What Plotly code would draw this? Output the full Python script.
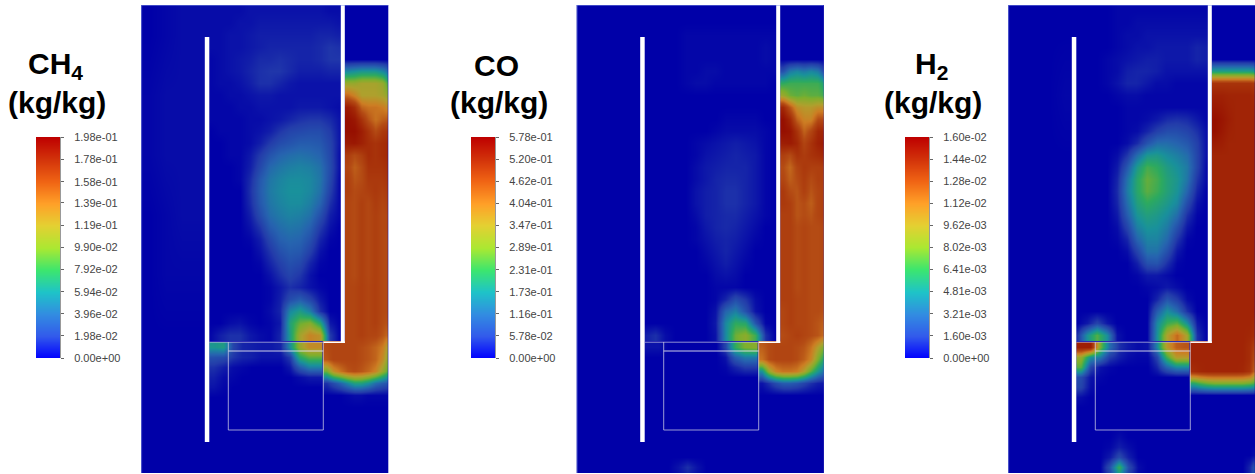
import plotly.graph_objects as go

W, H = 1255, 474

# Tick labels of the three colour bars
CH4_TICKS = ["0.00e+00","1.98e-02","3.96e-02","5.94e-02","7.92e-02","9.90e-02","1.19e-01","1.39e-01","1.58e-01","1.78e-01","1.98e-01"]
CO_TICKS = ["0.00e+00","5.78e-02","1.16e-01","1.73e-01","2.31e-01","2.89e-01","3.47e-01","4.04e-01","4.62e-01","5.20e-01","5.78e-01"]
H2_TICKS = ["0.00e+00","1.60e-03","3.21e-03","4.81e-03","6.41e-03","8.02e-03","9.62e-03","1.12e-02","1.28e-02","1.44e-02","1.60e-02"]

# Fields, in percent of the colour bar's full scale
CH4_OUTER = [
 [0,1,2,2],[1,2,2,2],[1,2,2,2],[0,1,2,2],[0,1,1,1],[0,0,0,0],[0,0,0,0],[0,0,0,0]]
CO_OUTER = [
 [0,0,0,0],[0,0,0,0],[0,0,0,0],[0,0,0,0],[0,0,0,0],[0,0,0,0],[0,0,0,0],[0,0,0,0]]
H2_OUTER = [
 [0,0,0,0],[0,0,0,1],[0,0,0,0],[0,0,0,0],[0,0,0,0],[0,0,0,0],[0,0,0,0],[0,0,0,0]]

CH4_CHAMBER = [
 [2,2,2,2,3,3,3,3,3,3,3,3,2,2],
 [2,2,2,3,3,4,4,4,4,4,4,4,4,3],
 [2,2,3,3,4,5,5,5,5,5,5,6,6,5],
 [2,2,3,3,4,5,6,6,6,6,6,7,9,8],
 [1,2,3,4,5,7,7,8,7,6,6,7,9,9],
 [1,2,3,4,6,8,9,9,7,5,5,5,6,6],
 [1,2,2,3,5,8,8,6,4,3,3,3,3,3],
 [1,1,2,2,3,4,4,3,3,3,3,3,3,3],
 [1,1,1,2,2,3,3,3,3,4,4,4,3,2],
 [1,1,1,1,2,2,3,4,6,8,9,9,7,3],
 [0,1,1,1,2,3,5,9,12,13,14,14,10,3],
 [0,0,1,1,2,5,10,14,16,18,18,17,12,3],
 [0,0,1,1,4,10,16,20,22,23,22,20,13,2],
 [0,0,0,1,5,13,21,24,26,27,26,23,14,2],
 [0,0,0,1,7,17,24,27,29,29,28,24,13,1],
 [0,0,0,0,8,18,25,28,30,30,28,23,11,1],
 [0,0,0,0,7,17,24,27,29,29,26,20,8,1],
 [0,0,0,0,5,14,22,25,27,26,23,15,5,1],
 [0,0,0,0,3,9,18,22,24,23,19,10,3,0],
 [0,0,0,0,1,5,13,19,21,20,15,6,1,0],
 [0,0,0,0,0,3,9,15,18,17,11,3,0,0],
 [0,0,0,0,0,1,6,11,15,13,6,1,0,0],
 [0,0,0,0,0,0,3,8,12,9,3,0,0,0],
 [0,0,0,0,0,0,1,4,8,6,3,1,0,0],
 [0,0,0,0,0,0,1,5,14,18,12,4,0,0],
 [0,0,0,0,0,0,2,6,28,34,26,8,0,0],
 [0,0,2,3,1,0,1,4,36,48,52,38,4,0],
 [1,5,8,8,4,2,1,6,34,58,68,64,10,0]]
CO_CHAMBER = [
 [0,0,0,0,0,0,0,0,0,0,0,0,0,0],
 [0,0,0,0,0,0,0,0,0,0,0,0,0,0],
 [0,0,0,0,1,1,1,1,1,1,1,1,1,1],
 [0,0,0,0,1,1,1,1,1,1,1,1,2,1],
 [0,0,0,0,1,1,1,1,1,1,1,1,2,1],
 [0,0,0,0,1,1,2,2,1,1,1,1,1,1],
 [0,0,0,0,1,2,2,1,1,1,1,1,1,0],
 [0,0,0,0,0,0,0,0,0,0,0,0,0,0],
 [0,0,0,0,0,0,0,0,0,0,0,0,0,0],
 [0,0,0,0,0,0,0,0,1,1,1,1,0,0],
 [0,0,0,0,0,0,0,1,2,2,2,2,1,0],
 [0,0,0,0,0,1,2,3,4,5,4,3,1,0],
 [0,0,0,0,0,1,3,4,5,6,5,4,1,0],
 [0,0,0,0,0,2,4,5,6,6,6,4,1,0],
 [0,0,0,0,0,2,4,6,7,7,6,4,1,0],
 [0,0,0,0,0,3,5,6,8,8,6,4,1,0],
 [0,0,0,0,0,3,5,6,8,8,6,4,1,0],
 [0,0,0,0,0,2,5,6,7,7,5,3,1,0],
 [0,0,0,0,0,1,4,6,7,6,4,2,0,0],
 [0,0,0,0,0,1,3,5,6,5,3,1,0,0],
 [0,0,0,0,0,0,2,4,6,4,2,0,0,0],
 [0,0,0,0,0,0,1,3,5,3,1,0,0,0],
 [0,0,0,0,0,0,0,2,3,2,0,0,0,0],
 [0,0,0,0,0,0,0,1,1,1,0,0,0,0],
 [0,0,0,0,0,0,0,1,6,14,9,2,0,0],
 [0,0,0,0,0,0,0,3,20,26,15,3,0,0],
 [0,0,0,0,0,0,0,4,28,40,38,16,1,0],
 [5,8,2,0,0,0,0,3,28,48,53,42,8,0]]
H2_CHAMBER = [
 [0,0,0,0,1,1,1,1,1,1,1,1,1,1],
 [0,0,0,0,1,1,2,2,2,2,2,2,2,2],
 [0,0,0,0,1,2,2,3,3,3,3,3,3,3],
 [0,0,0,0,1,2,3,3,4,4,4,4,6,5],
 [0,0,0,1,2,3,4,5,5,4,4,4,6,5],
 [0,0,0,1,2,5,6,6,5,3,3,3,3,3],
 [0,0,0,1,3,6,6,4,2,2,1,1,1,1],
 [0,0,0,0,1,2,2,1,1,1,1,1,1,1],
 [0,0,0,0,0,1,1,1,1,1,1,1,1,1],
 [0,0,0,0,0,1,1,2,4,7,8,7,4,1],
 [0,0,0,0,0,1,2,6,11,14,14,12,8,2],
 [0,0,0,0,0,2,7,16,22,22,20,17,11,2],
 [0,0,0,0,2,9,22,32,33,29,26,22,12,2],
 [0,0,0,0,4,17,33,43,40,34,30,25,12,1],
 [0,0,0,0,6,23,38,47,43,36,32,24,9,1],
 [0,0,0,0,7,25,38,46,42,36,31,20,6,0],
 [0,0,0,0,6,22,35,40,37,33,28,14,3,0],
 [0,0,0,0,4,18,31,35,33,29,22,8,1,0],
 [0,0,0,0,2,12,26,31,30,25,15,4,0,0],
 [0,0,0,0,1,6,20,27,27,21,9,1,0,0],
 [0,0,0,0,0,2,12,23,23,15,4,0,0,0],
 [0,0,0,0,0,0,5,15,16,8,1,0,0,0],
 [0,0,0,0,0,0,1,4,4,2,0,0,0,0],
 [0,0,0,0,0,0,0,1,2,4,2,0,0,0],
 [0,0,0,0,0,0,0,0,6,16,10,2,0,0],
 [0,0,0,0,0,0,0,0,18,30,22,8,0,0],
 [0,4,12,4,0,0,0,0,28,42,46,30,4,0],
 [8,30,45,30,3,0,0,0,30,60,74,58,8,0]]

CH4_LOWER = [
 [32,34,12,6,5,4,4,6,30,55,66,66],
 [15,14,9,6,5,3,3,3,10,38,46,46],
 [8,5,2,1,0,0,0,0,4,18,26,26],
 [5,2,1,0,0,0,0,0,0,2,4,4],
 [3,1,0,0,0,0,0,0,0,0,0,0],
 [0,0,0,0,0,0,0,0,0,0,0,0],
 [0,0,0,0,0,0,0,0,0,0,0,0],
 [0,0,0,0,0,0,0,0,0,0,0,0],
 [0,0,0,0,0,0,0,0,0,0,0,0],
 [0,0,0,0,0,0,0,0,0,0,0,0],
 [0,0,0,0,0,0,0,0,0,0,0,0],
 [0,0,0,0,0,0,0,0,0,0,0,0],
 [0,0,0,0,0,0,0,0,0,0,0,0],
 [0,0,0,0,0,0,0,0,0,0,0,0]]
CO_LOWER = [
 [3,3,0,0,0,0,0,0,12,40,50,52],
 [0,0,0,0,0,0,0,0,3,18,25,25],
 [0,0,0,0,0,0,0,0,1,6,10,10],
 [0,0,0,0,0,0,0,0,0,0,0,0],
 [0,0,0,0,0,0,0,0,0,0,0,0],
 [0,0,0,0,0,0,0,0,0,0,0,0],
 [0,0,0,0,0,0,0,0,0,0,0,0],
 [0,0,0,0,0,0,0,0,0,0,0,0],
 [0,0,0,0,0,0,0,0,0,0,0,0],
 [0,0,0,0,0,0,0,0,0,0,0,0],
 [0,0,0,0,0,0,0,0,0,0,0,0],
 [0,0,0,0,0,0,0,0,0,0,0,0],
 [0,0,0,3,8,3,0,0,0,0,0,0],
 [0,0,0,2,5,2,0,0,0,0,0,0]]
H2_LOWER = [
 [95,95,50,22,8,4,2,3,28,62,76,78],
 [55,30,25,10,5,2,1,1,12,42,62,62],
 [45,12,3,1,0,0,0,0,6,20,28,28],
 [14,3,1,0,0,0,0,0,0,0,0,0],
 [12,2,0,0,0,0,0,0,0,0,0,0],
 [2,0,0,0,0,0,0,0,0,0,0,0],
 [0,0,0,0,0,0,0,0,0,0,0,0],
 [0,0,0,0,0,0,0,0,0,0,0,0],
 [0,0,0,0,0,0,0,0,0,0,0,0],
 [0,0,0,0,2,0,0,0,0,0,0,0],
 [0,0,0,1,5,2,0,0,0,0,0,0],
 [0,0,0,4,14,5,0,0,0,0,0,0],
 [0,0,0,15,42,14,2,0,0,0,0,0],
 [0,0,0,10,30,10,1,0,0,0,0,0]]

CH4_CHANNEL = [
 [0,0,0,0,0,0,0,0,0,0],[0,0,0,0,0,0,0,0,0,0],[0,0,0,0,0,0,0,0,0,0],[0,0,0,0,0,0,0,0,0,0],[0,0,0,0,0,0,0,0,0,0],
 [28,28,28,28,30,32,32,32,28,20],
 [55,55,55,55,55,58,58,58,55,40],
 [74,74,74,74,68,60,60,60,58,52],
 [96,96,96,96,90,75,72,72,70,65],
 [100,100,100,100,97,88,78,72,76,78],
 [100,100,100,100,100,95,88,80,86,88],
 [96,96,96,96,97,94,90,88,90,92],
 [85,85,85,85,80,84,90,88,90,92],
 [82,82,82,82,76,80,88,88,88,90],
 [84,84,84,84,78,80,86,86,86,88],
 [84,84,84,84,80,82,84,86,84,86],
 [82,82,82,82,80,84,81,85,82,84],
 [82,82,82,82,80,84,81,84,81,82],
 [82,82,82,82,80,84,81,84,81,82],
 [82,82,82,82,80,84,81,84,81,80],
 [82,82,82,82,80,84,81,84,81,80],
 [82,82,82,82,80,84,81,84,81,80],
 [82,82,82,82,80,84,81,84,81,80],
 [82,82,82,82,82,84,82,84,81,80],
 [82,82,82,82,82,84,82,84,81,80],
 [82,82,82,82,82,84,82,84,81,80],
 [82,82,82,82,82,84,82,84,80,78],
 [82,82,82,82,82,84,82,82,78,72],
 [80,82,82,82,82,80,78,75,70,55],
 [78,82,82,82,82,80,78,75,66,48],
 [48,65,72,78,80,78,74,68,55,42],
 [8,14,20,28,35,35,30,22,18,15],
 [0,0,0,1,2,2,1,1,1,1],
 [0,0,0,0,0,0,0,0,0,0],[0,0,0,0,0,0,0,0,0,0],[0,0,0,0,0,0,0,0,0,0],[0,0,0,0,0,0,0,0,0,0],[0,0,0,0,0,0,0,0,0,0],[0,0,0,0,0,0,0,0,0,0]]
CO_CHANNEL = [
 [0,0,0,0,0,0,0,0,0,0],[0,0,0,0,0,0,0,0,0,0],[0,0,0,0,0,0,0,0,0,0],[0,0,0,0,0,0,0,0,0,0],[0,0,0,0,0,0,0,0,0,0],
 [15,15,15,15,25,28,25,28,25,12],
 [40,40,40,40,42,42,42,42,42,35],
 [56,56,56,56,48,46,48,46,46,42],
 [92,92,92,92,78,65,62,62,65,65],
 [100,100,100,100,92,75,68,68,80,80],
 [100,100,100,100,98,88,75,82,92,92],
 [95,95,95,95,96,92,82,88,94,96],
 [84,84,84,84,80,88,85,88,90,92],
 [80,80,80,80,74,82,86,84,84,85],
 [82,82,82,82,76,80,85,80,84,84],
 [86,86,86,86,80,78,84,78,82,84],
 [86,86,86,86,84,78,80,76,82,84],
 [84,84,84,84,84,78,80,78,82,84],
 [84,84,84,84,84,80,82,80,80,82],
 [84,84,84,84,84,80,82,80,80,82],
 [84,84,84,84,84,80,82,80,80,82],
 [84,84,84,84,84,80,82,80,80,82],
 [84,84,84,84,84,80,82,80,80,82],
 [84,84,84,84,84,80,82,80,80,82],
 [84,84,84,84,84,82,82,80,80,80],
 [82,82,82,82,84,82,82,80,80,78],
 [82,82,82,82,84,82,82,80,78,75],
 [80,80,80,80,82,84,82,80,78,72],
 [76,80,82,82,82,80,78,72,60,48],
 [72,80,82,82,82,80,76,68,50,35],
 [30,55,68,72,72,70,60,45,32,22],
 [3,8,14,18,18,16,12,8,5,4],
 [0,0,0,0,0,0,0,0,0,0],
 [0,0,0,0,0,0,0,0,0,0],[0,0,0,0,0,0,0,0,0,0],[0,0,0,0,0,0,0,0,0,0],[0,0,0,0,0,0,0,0,0,0],[0,0,0,0,0,0,0,0,0,0],[0,0,0,0,0,0,0,0,0,0]]
H2_CHANNEL = [
 [0,0,0,0,0,0,0,0,0,0],[0,0,0,0,0,0,0,0,0,0],[0,0,0,0,0,0,0,0,0,0],[0,0,0,0,0,0,0,0,0,0],[0,0,0,0,0,0,0,0,0,0],
 [35,35,35,35,35,35,35,35,35,32],
 [88,88,88,88,88,88,88,88,88,85],
 [94,94,94,94,94,93,93,93,93,90],
 [97,97,97,97,96,94,93,93,93,92],
 [100,100,100,100,98,95,93,93,93,93],
 [100,100,100,100,97,94,93,93,93,93],
 [96,96,96,96,95,93,93,93,93,93],
 [93,93,93,93,93,93,93,93,93,93],
 [93,93,93,93,93,93,93,93,93,93],
 [93,93,93,93,93,93,93,93,93,93],
 [93,93,93,93,93,93,93,93,93,93],
 [93,93,93,93,93,93,93,93,93,93],
 [93,93,93,93,93,93,93,93,93,93],
 [93,93,93,93,93,93,93,93,93,93],
 [93,93,93,93,93,93,93,93,93,93],
 [93,93,93,93,93,93,93,93,93,93],
 [93,93,93,93,93,93,93,93,93,93],
 [93,93,93,93,93,93,93,93,93,93],
 [93,93,93,93,93,93,93,93,93,93],
 [93,93,93,93,93,93,93,93,93,93],
 [93,93,93,93,93,93,93,93,93,93],
 [93,93,93,93,93,93,93,93,93,90],
 [93,93,93,93,93,93,93,93,92,88],
 [93,93,93,93,93,93,93,93,90,80],
 [93,93,93,93,93,93,93,93,90,74],
 [90,92,93,93,93,93,93,92,88,68],
 [38,44,48,50,50,50,50,50,48,42],
 [0,0,0,0,0,0,0,0,0,0],
 [0,0,0,0,0,0,0,0,0,0],[0,0,0,0,0,0,0,0,0,0],[0,0,0,0,0,0,0,0,0,0],[0,0,0,0,0,0,0,0,0,0],
 [0,0,0,0,0,0,0,0,0,3],
 [0,0,0,0,0,0,0,0,6,22]]

# Colours
BAR_COLORS = ["rgb(0,0,255)","rgb(50,90,235)","rgb(50,140,225)","rgb(30,195,200)","rgb(60,230,110)","rgb(170,232,50)",
              "rgb(228,208,50)","rgb(255,160,40)","rgb(240,100,20)","rgb(210,50,10)","rgb(190,0,0)"]
FIELD_COLORS = ["rgb(0,0,168)","rgb(35,60,170)","rgb(38,100,175)","rgb(25,145,155)","rgb(45,170,95)","rgb(125,175,45)",
                "rgb(175,160,45)","rgb(205,125,35)","rgb(180,75,20)","rgb(165,45,8)","rgb(150,15,0)"]
BAR_SCALE = [[i / 10, c] for i, c in enumerate(BAR_COLORS)]
FIELD_SCALE = [[i / 10, c] for i, c in enumerate(FIELD_COLORS)]

PANELS = [
 dict(title="CH<sub>4</sub>", cx=55, left=141.3, bar=36, ticks=CH4_TICKS, outer=CH4_OUTER, chamber=CH4_CHAMBER, lower=CH4_LOWER, channel=CH4_CHANNEL),
 dict(title="CO", cx=496.5, left=576.7, bar=471, ticks=CO_TICKS, outer=CO_OUTER, chamber=CO_CHAMBER, lower=CO_LOWER, channel=CO_CHANNEL),
 dict(title="H<sub>2</sub>", cx=931, left=1008.3, bar=905, ticks=H2_TICKS, outer=H2_OUTER, chamber=H2_CHAMBER, lower=H2_LOWER, channel=H2_CHANNEL),
]
PANEL_W, PANEL_H, PANEL_TOP = 247, 468, 5
BAR_W, BAR_TOP, BAR_BOTTOM = 24, 137, 358
LINE = "rgba(205,205,230,0.75)"
FONT = "Liberation Sans, Arial, sans-serif"

fig = go.Figure()
layout = dict(width=W, height=H, margin=dict(l=0, r=0, t=0, b=0, autoexpand=False), paper_bgcolor="white", plot_bgcolor=FIELD_COLORS[0], showlegend=False)
shapes, annotations = [], []

def field(z, x0, dx, y0, dy, ax):
    return go.Heatmap(z=z, x0=x0, dx=dx, y0=y0, dy=dy, zmin=0, zmax=100, colorscale=FIELD_SCALE, zsmooth="best",
                      showscale=False, hoverinfo="skip", xaxis=f"x{ax}", yaxis=f"y{ax}")

for n, p in enumerate(PANELS):
    a, b = 2 * n + 1, 2 * n + 2
    xa, ya = ("xaxis" if a == 1 else f"xaxis{a}"), ("yaxis" if a == 1 else f"yaxis{a}")
    right = min(p["left"] + PANEL_W, W)
    layout[xa] = dict(domain=[p["left"] / W, right / W], range=[0, right - p["left"]], visible=False, fixedrange=True)
    layout[ya] = dict(domain=[1 - (PANEL_TOP + PANEL_H) / H, 1 - PANEL_TOP / H], range=[PANEL_H, 0], visible=False, fixedrange=True)
    fig.add_trace(field(p["outer"], 8, 16, 30, 60, a))
    fig.add_trace(field(p["channel"], 185, 7, 6, 12, a))
    fig.add_trace(field(p["chamber"], 68.5, 10, 6, 12, a))
    fig.add_trace(field(p["lower"], 72.75, 9.45, 342, 10, a))

    xr, yr = f"x{a}", f"y{a}"
    def rect(x0, x1, y0, y1, fill="white", line=None):
        shapes.append(dict(type="rect", xref=xr, yref=yr, x0=x0, x1=x1, y0=y0, y1=y1, layer="above",
                           fillcolor=fill, line=dict(width=0) if line is None else line))
    def seg(x0, y0, x1, y1, color=LINE, width=1):
        shapes.append(dict(type="line", xref=xr, yref=yr, x0=x0, x1=x1, y0=y0, y1=y1, layer="above", line=dict(color=color, width=width)))
    rect(63.5, 68, 32, 437)
    rect(199.5, 203.5, 0, 338)
    seg(182, 337.2, 203.5, 337.2, "white", 1.5)
    seg(68, 337.2, 182, 337.2, "rgba(190,190,225,0.75)")
    seg(87, 346, 182, 346, "rgba(225,225,240,0.9)")
    seg(87, 337, 87, 425)
    seg(182, 337, 182, 425)
    seg(87, 425, 182, 425)
    seg(0, 0.3, PANEL_W, 0.3, "rgba(130,150,235,0.6)")
    seg(0.3, 0, 0.3, PANEL_H, "rgba(130,150,235,0.6)")

    vals = [float(t) for t in p["ticks"]]
    xb, yb = ("xaxis%d" % b), ("yaxis%d" % b)
    layout[xb] = dict(domain=[p["bar"] / W, (p["bar"] + BAR_W) / W], range=[0, 1], visible=False, fixedrange=True, anchor=f"y{b}")
    layout[yb] = dict(domain=[1 - BAR_BOTTOM / H, 1 - BAR_TOP / H], range=[0, vals[-1]], side="right", anchor=f"x{b}", fixedrange=True,
                      tickmode="array", tickvals=vals, ticktext=p["ticks"], ticks="outside", ticklen=3, tickwidth=1, tickcolor="#666",
                      ticklabelstandoff=8, tickfont=dict(family=FONT, size=11, color="#444"), showgrid=False, zeroline=False,
                      showline=True, linecolor="rgba(110,110,110,0.7)", linewidth=1)
    fig.add_trace(go.Heatmap(z=[[v, v] for v in vals], x=[0, 1], y=vals, zmin=0, zmax=vals[-1], colorscale=BAR_SCALE, zsmooth="best",
                             showscale=False, hoverinfo="skip", xaxis=f"x{b}", yaxis=f"y{b}"))

    annotations.append(dict(text=p["title"], xref="paper", yref="paper", x=p["cx"] / W, y=1 - 65 / H, xanchor="center", yanchor="middle",
                            showarrow=False, font=dict(family=FONT, size=30, color="black", weight=700)))
    annotations.append(dict(text="(kg/kg)", xref="paper", yref="paper", x=(p["cx"] + 2) / W, y=1 - 102 / H, xanchor="center", yanchor="middle",
                            showarrow=False, font=dict(family=FONT, size=30, color="black", weight=700)))

layout["shapes"] = shapes
layout["annotations"] = annotations
fig.update_layout(**layout)
fig.write_html("out.html", config=dict(displayModeBar=False), post_script="document.body.style.margin='0';document.body.style.overflow='hidden';")
